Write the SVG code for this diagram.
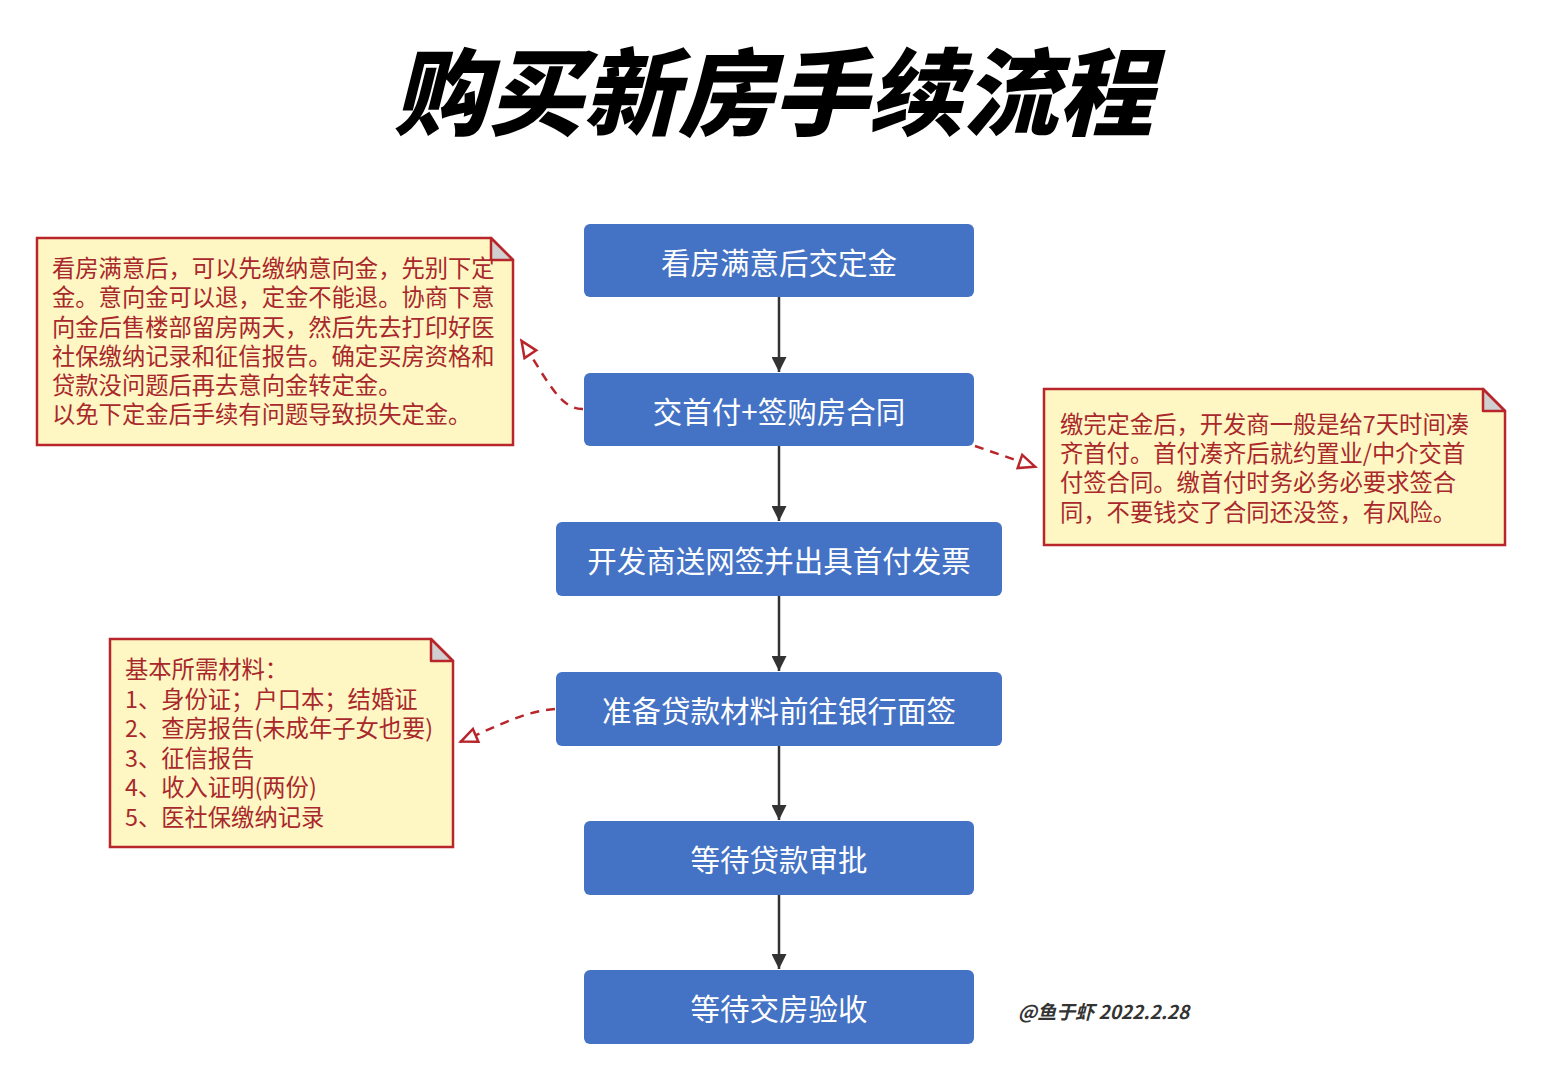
<svg xmlns="http://www.w3.org/2000/svg" width="1541" height="1080" viewBox="0 0 1541 1080">
<defs>
<style>
.box{fill:#4472c4;}
.bt{font-family:"Noto Sans CJK SC","Noto Sans",sans-serif;font-size:29.5px;fill:#ffffff;text-anchor:middle;dominant-baseline:central;}
.note{fill:#fff6b8;fill-opacity:0.85;stroke:#b8262b;stroke-width:2.5;}
.fold{fill:#d0d0d0;stroke:#b8262b;stroke-width:2.5;stroke-linejoin:round;}
.nt{font-family:"Noto Sans CJK SC","Noto Sans",sans-serif;font-size:23.3px;fill:#a8282c;}
.flow{stroke:#333333;stroke-width:2.5;fill:none;}
.dash{stroke:#b8262b;stroke-width:2.5;fill:none;stroke-dasharray:9 7;}
</style>
<marker id="ah" viewBox="0 0 10 10" refX="10" refY="5" markerWidth="6" markerHeight="6" orient="auto" markerUnits="strokeWidth">
<path d="M0,0 L10,5 L0,10 z" fill="#333333"/>
</marker>
<marker id="oh" viewBox="0 0 20 20" refX="19" refY="10" markerWidth="20" markerHeight="20" orient="auto" markerUnits="userSpaceOnUse" overflow="visible">
<path d="M2,3 L18,10 L2,17 z" fill="#ffffff" stroke="#b8262b" stroke-width="2.5" stroke-linejoin="miter"/>
</marker>
</defs>
<rect width="1541" height="1080" fill="#ffffff"/>

<g id="title">
<text x="773" y="128" text-anchor="middle" font-family="Noto Sans CJK SC,sans-serif" font-weight="900" font-style="italic" font-size="95" fill="#000000">购买新房手续流程</text>
</g>

<g id="connectors">
<line class="flow" x1="779" y1="297" x2="779" y2="372" marker-end="url(#ah)"/>
<line class="flow" x1="779" y1="446" x2="779" y2="521" marker-end="url(#ah)"/>
<line class="flow" x1="779" y1="596" x2="779" y2="671" marker-end="url(#ah)"/>
<line class="flow" x1="779" y1="746" x2="779" y2="820" marker-end="url(#ah)"/>
<line class="flow" x1="779" y1="895" x2="779" y2="969" marker-end="url(#ah)"/>
<path class="dash" d="M583,409 C560,410 546,378 521,340" marker-end="url(#oh)"/>
<path class="dash" d="M975,446 L1036,467" marker-end="url(#oh)"/>
<path class="dash" d="M555,709 C525,711 500,725 460,742" marker-end="url(#oh)"/>
</g>

<g id="n1"><rect class="box" x="584" y="224" width="390" height="73" rx="6"/><text class="bt" x="779" y="261">看房满意后交定金</text></g>
<g id="n2"><rect class="box" x="584" y="373" width="390" height="73" rx="6"/><text class="bt" x="779" y="410">交首付+签购房合同</text></g>
<g id="n3"><rect class="box" x="556" y="522" width="446" height="74" rx="6"/><text class="bt" x="779" y="559">开发商送网签并出具首付发票</text></g>
<g id="n4"><rect class="box" x="556" y="672" width="446" height="74" rx="6"/><text class="bt" x="779" y="709">准备贷款材料前往银行面签</text></g>
<g id="n5"><rect class="box" x="584" y="821" width="390" height="74" rx="6"/><text class="bt" x="779" y="858">等待贷款审批</text></g>
<g id="n6"><rect class="box" x="584" y="970" width="390" height="74" rx="6"/><text class="bt" x="779" y="1007">等待交房验收</text></g>

<g id="note1">
<path class="note" d="M37,238 L491,238 L513,260 L513,445 L37,445 Z"/>
<path class="fold" d="M491,238 L491,260 L513,260 Z"/>
<text class="nt" x="52" y="277">看房满意后，可以先缴纳意向金，先别下定</text>
<text class="nt" x="52" y="306">金。意向金可以退，定金不能退。协商下意</text>
<text class="nt" x="52" y="336">向金后售楼部留房两天，然后先去打印好医</text>
<text class="nt" x="52" y="365">社保缴纳记录和征信报告。确定买房资格和</text>
<text class="nt" x="52" y="394">贷款没问题后再去意向金转定金。</text>
<text class="nt" x="52" y="423">以免下定金后手续有问题导致损失定金。</text>
</g>

<g id="note2">
<path class="note" d="M1044,389 L1483,389 L1505,411 L1505,545 L1044,545 Z"/>
<path class="fold" d="M1483,389 L1483,411 L1505,411 Z"/>
<text class="nt" x="1060" y="433">缴完定金后，开发商一般是给7天时间凑</text>
<text class="nt" x="1060" y="462">齐首付。首付凑齐后就约置业/中介交首</text>
<text class="nt" x="1060" y="491">付签合同。缴首付时务必务必要求签合</text>
<text class="nt" x="1060" y="521">同，不要钱交了合同还没签，有风险。</text>
</g>

<g id="note3">
<path class="note" d="M110,639 L431,639 L453,661 L453,847 L110,847 Z"/>
<path class="fold" d="M431,639 L431,661 L453,661 Z"/>
<text class="nt" x="125" y="678">基本所需材料：</text>
<text class="nt" x="125" y="708">1、身份证；户口本；结婚证</text>
<text class="nt" x="125" y="737">2、查房报告(未成年子女也要)</text>
<text class="nt" x="125" y="767">3、征信报告</text>
<text class="nt" x="125" y="796">4、收入证明(两份)</text>
<text class="nt" x="125" y="826">5、医社保缴纳记录</text>
</g>

<g id="signature">
<text x="1018" y="1019" font-family="Noto Sans CJK SC,sans-serif" font-weight="bold" font-style="italic" font-size="19" fill="#333333">@鱼于虾 2022.2.28</text>
</g>
</svg>
